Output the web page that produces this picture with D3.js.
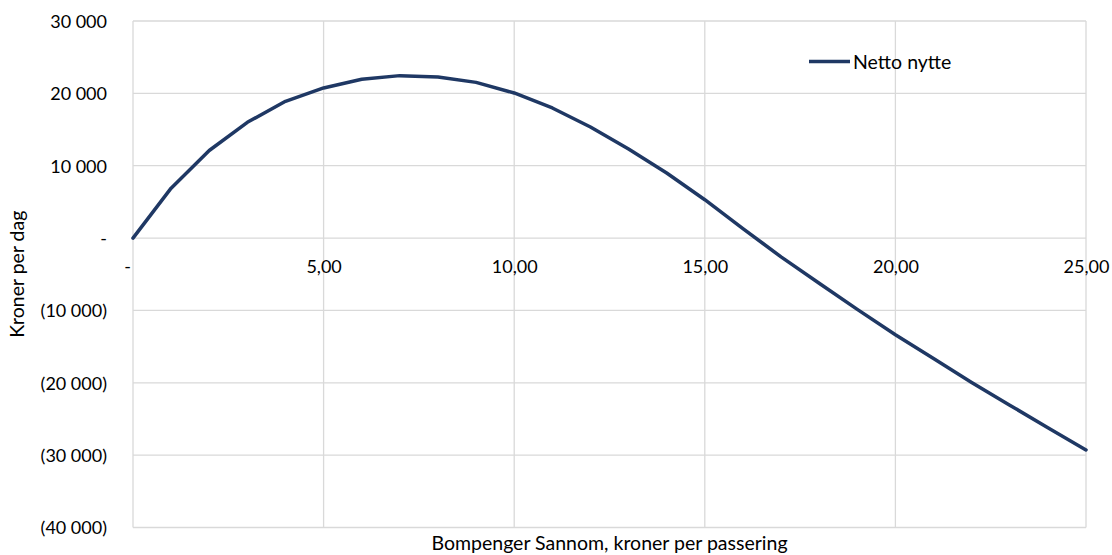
<!DOCTYPE html>
<html>
<head>
<meta charset="utf-8">
<script src="https://cdn.jsdelivr.net/npm/d3@7"></script>
<style>
  html, body { margin: 0; padding: 0; background: #fff; }
  svg { display: block; }
  text { font-family: Lato, "Open Sans", sans-serif; fill: #000; }
</style>
</head>
<body>
<svg id="chart" width="1112" height="555"></svg>
<script>
// Toll price (kroner per passing) and resulting net benefit (kroner per day)
const tollPrices = [0, 1, 2, 3, 4, 5, 6, 7, 8, 9, 10, 11, 12, 13, 14, 15, 16, 17, 18, 19, 20, 21, 22, 23, 24, 25];
const netBenefit = [0, 6900, 12100, 16000, 18900, 20750, 21950, 22450, 22270, 21520, 20050, 17980, 15350, 12310, 8990, 5300, 1300, -2600, -6250, -9850, -13350, -16650, -19950, -23100, -26200, -29280];

const xTicks = [0, 5, 10, 15, 20, 25];
const yTicks = [30000, 20000, 10000, 0, -10000, -20000, -30000, -40000];

const seriesName = "Netto nytte";
const xTitle = "Bompenger Sannom, kroner per passering";
const yTitle = "Kroner per dag";

const svg = d3.select("#chart");
const margin = { left: 133, top: 21, right: 26, bottom: 27.5 };
const W = 1112, H = 555;
const plotW = W - margin.left - margin.right;
const plotH = H - margin.top - margin.bottom;

const x = d3.scaleLinear().domain([0, 25]).range([0, plotW]);
const y = d3.scaleLinear().domain([-40000, 30000]).range([plotH, 0]);

const g = svg.append("g").attr("transform", `translate(${margin.left},${margin.top})`);

// number formats: space as thousands separator, parentheses for negatives, dash for zero
const thousands = d3.formatLocale({ decimal: ",", thousands: "\u00a0", grouping: [3], currency: ["", ""] });
const fmtInt = thousands.format(",.0f");
const fmtDec = thousands.format(".2f");
const yFmt = v => v === 0 ? "-" : (v < 0 ? "(" + fmtInt(-v) + ")" : fmtInt(v));
const xFmt = v => v === 0 ? "-" : fmtDec(v);

const gridColor = "#d9d9d9";

// horizontal gridlines
g.append("g")
  .selectAll("line")
  .data(yTicks)
  .join("line")
  .attr("x1", 0).attr("x2", plotW)
  .attr("y1", d => y(d)).attr("y2", d => y(d))
  .attr("stroke", gridColor).attr("stroke-width", 1.3);

// vertical gridlines
g.append("g")
  .selectAll("line")
  .data(xTicks)
  .join("line")
  .attr("x1", d => x(d)).attr("x2", d => x(d))
  .attr("y1", 0).attr("y2", plotH)
  .attr("stroke", gridColor).attr("stroke-width", 1.3);

// y axis labels
const yAxis = d3.axisLeft(y).tickValues(yTicks).tickFormat(yFmt).tickSize(0).tickPadding(26);
const yg = g.append("g").call(yAxis);
yg.select(".domain").remove();
yg.selectAll("text").attr("font-size", 18).attr("dy", "0.36em").attr("font-family", "Lato");

// x axis labels sit just below the zero line
const xAxis = d3.axisBottom(x).tickValues(xTicks).tickFormat(xFmt).tickSize(0).tickPadding(22);
const xg = g.append("g").attr("transform", `translate(0,${y(0)})`).call(xAxis);
xg.select(".domain").remove();
xg.selectAll("text").attr("font-size", 18).attr("font-family", "Lato");
xg.selectAll("text").filter(d => d === 0).attr("dx", -6);

// series line
const line = d3.line()
  .x((d, i) => x(tollPrices[i]))
  .y(d => y(d));

g.append("path")
  .datum(netBenefit)
  .attr("d", line)
  .attr("fill", "none")
  .attr("stroke", "#1f3864")
  .attr("stroke-width", 3.5)
  .attr("stroke-linejoin", "round")
  .attr("stroke-linecap", "round");

// legend
const lg = svg.append("g").attr("transform", "translate(809,61.5)");
lg.append("line").attr("x1", 0).attr("x2", 41).attr("y1", 0).attr("y2", 0)
  .attr("stroke", "#1f3864").attr("stroke-width", 3.5);
lg.append("text").attr("x", 44).attr("y", 0).attr("dy", "0.36em")
  .attr("font-size", 19.5).text(seriesName);

// axis titles
svg.append("text")
  .attr("x", margin.left + plotW / 2).attr("y", 550)
  .attr("text-anchor", "middle").attr("font-size", 19.5)
  .text(xTitle);

svg.append("text")
  .attr("transform", `translate(24,${margin.top + plotH / 2}) rotate(-90)`)
  .attr("text-anchor", "middle").attr("font-size", 19.5)
  .text(yTitle);
</script>
</body>
</html>
